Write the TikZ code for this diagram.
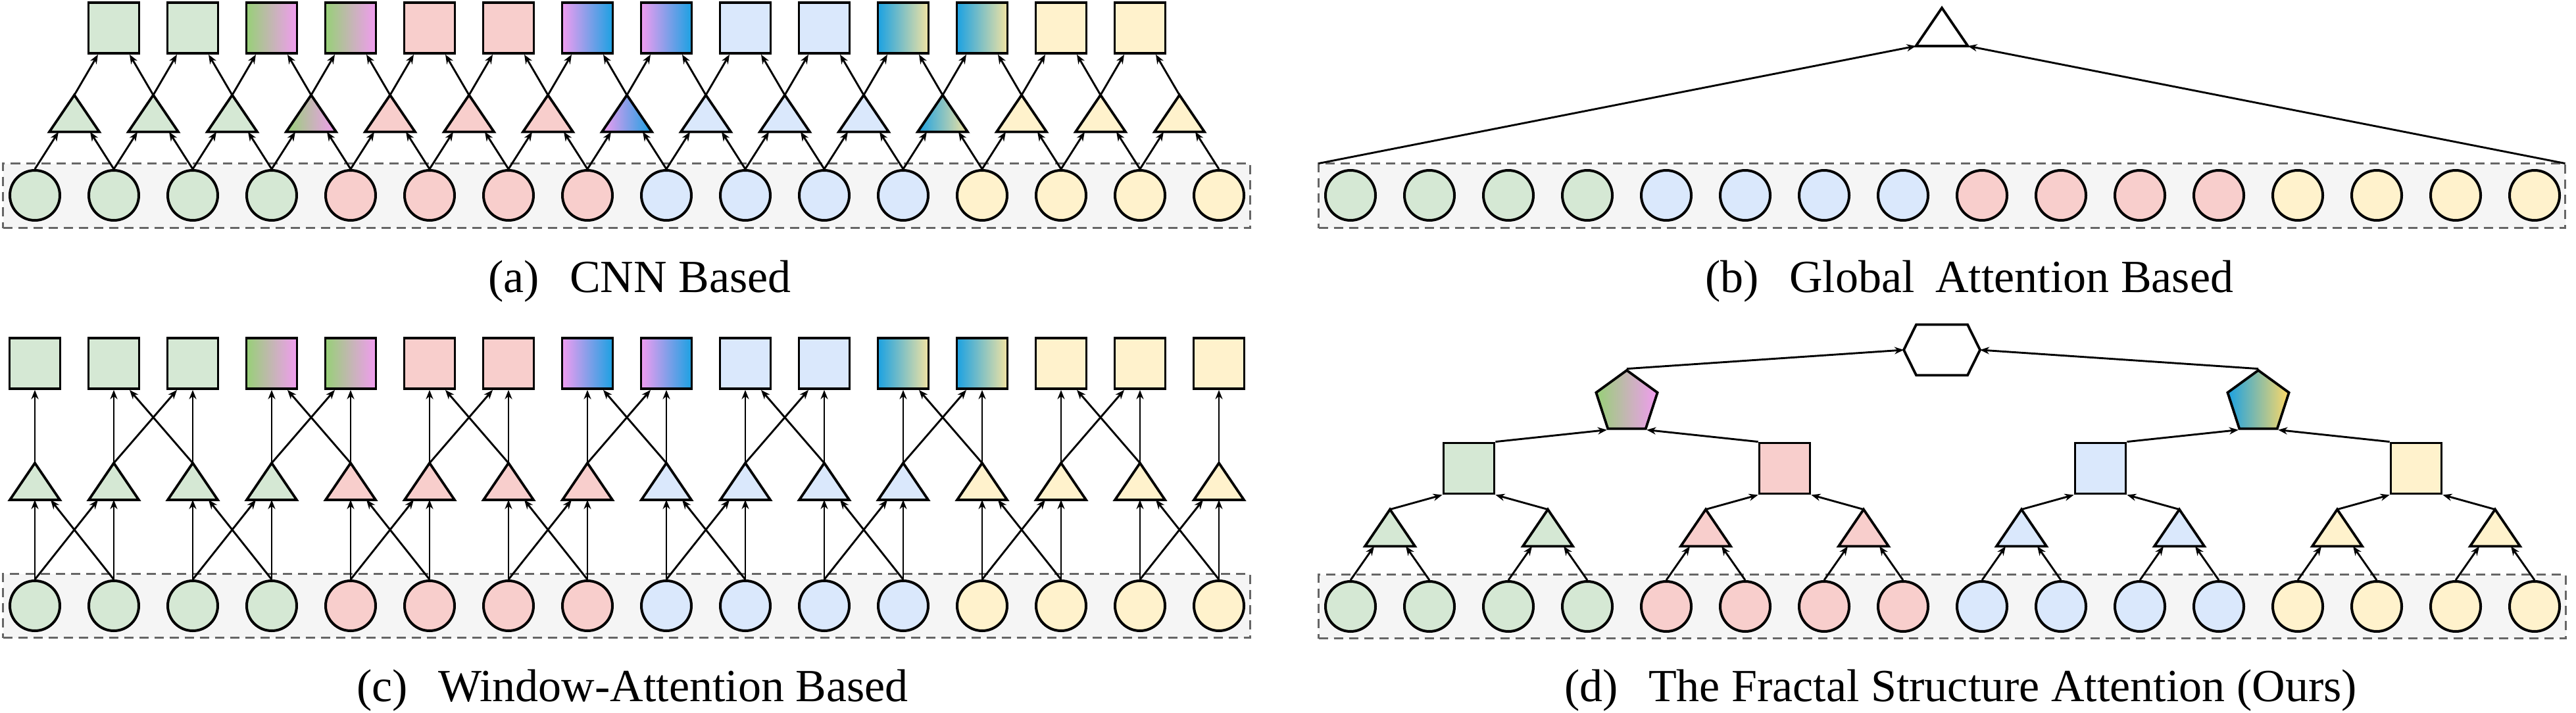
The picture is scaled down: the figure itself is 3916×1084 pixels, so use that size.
\documentclass[tikz,border=0pt]{standalone}
\usepackage{fontspec}
\setmainfont{Liberation Serif}
\newfontfamily\capfont{Liberation Serif}
\usepackage{tikz}
\usetikzlibrary{positioning,shapes.geometric,arrows.meta}
\definecolor{tokgreen}{HTML}{D5E8D4}
\definecolor{tokpink}{HTML}{F8CECC}
\definecolor{tokblue}{HTML}{DAE8FC}
\definecolor{tokyellow}{HTML}{FFF2CC}
\definecolor{gradgreen}{HTML}{97D077}
\definecolor{gradpink}{HTML}{F19CF0}
\definecolor{gradblue}{HTML}{1BA1E2}
\definecolor{gradyellow}{HTML}{F2E3A2}
\definecolor{pentyellow}{HTML}{FFD966}
\definecolor{boxgray}{HTML}{F5F5F5}
\definecolor{dashgray}{HTML}{666666}
\tikzstyle{colG} = [fill=tokgreen]
\tikzstyle{colP} = [fill=tokpink]
\tikzstyle{colB} = [fill=tokblue]
\tikzstyle{colY} = [fill=tokyellow]
\tikzstyle{colW} = [fill=white]
\tikzstyle{colGP} = [left color=gradgreen, right color=gradpink]
\tikzstyle{colPB} = [left color=gradpink, right color=gradblue]
\tikzstyle{colBY} = [left color=gradblue, right color=gradyellow]
\tikzstyle{colBYp} = [left color=gradblue, right color=pentyellow]
\tikzstyle{token} = [circle, minimum size=76pt, inner sep=0pt, draw=black, line width=4pt]
\tikzstyle{feat} = [rectangle, minimum size=77pt, inner sep=0pt, draw=black, line width=3.8pt]
\tikzstyle{tribox} = [rectangle, minimum width=76pt, minimum height=56pt, inner sep=0pt, outer sep=0pt]
\tikzstyle{tri} = [draw=black, line width=3.8pt, line join=miter]
\tikzstyle{pent} = [regular polygon, regular polygon sides=5, minimum size=98pt, inner sep=0pt, draw=black, line width=3.8pt]
\tikzstyle{seqbox} = [rectangle, draw=dashgray, fill=boxgray, line width=3.5pt, dash pattern=on 14pt off 9pt, inner sep=0pt, outer sep=0pt]
\tikzstyle{arrow} = [line width=2.9pt, -{Stealth[length=14pt, width=11pt]}]
\tikzstyle{caption} = [anchor=base west, inner sep=0pt, font=\capfont\fontsize{70pt}{84pt}\selectfont]

\begin{document}
\begin{tikzpicture}[x=1pt, y=-1pt]
\useasboundingbox (0,0) rectangle (3916,1084);
% (a) CNN based
 \node[seqbox, minimum width=1896pt, minimum height=98pt] (boxa) at (952.5,297.5) {};
 \foreach \col [count=\i] in {colG,colG,colG,colG,colP,colP,colP,colP,colB,colB,colB,colB,colY,colY,colY,colY}
   \node[token,\col] (ca\i) at ({53+120*(\i-1)},297) {};
 \foreach \col [count=\i] in {colG,colG,colG,colGP,colP,colP,colP,colPB,colB,colB,colB,colBY,colY,colY,colY} {
   \node[tribox] (ta\i) at ({113+120*(\i-1)},172.5) {};
   \draw[tri,\col] (ta\i.south west) -- (ta\i.south east) -- (ta\i.north) -- cycle;
 }
 \foreach \col [count=\i from 2] in {colG,colG,colGP,colGP,colP,colP,colPB,colPB,colB,colB,colBY,colBY,colY,colY}
   \node[feat,\col] (sa\i) at ({53+120*(\i-1)},42.5) {};
% arrows
 \foreach \i in {1,...,15}
   \draw[arrow] (ca\i.north) -- ([xshift=-24pt]ta\i.south);
 \foreach \i [evaluate=\i as \j using int(\i-1)] in {2,...,16}
   \draw[arrow] (ca\i.north) -- ([xshift=24pt]ta\j.south);
 \foreach \i [evaluate=\i as \j using int(\i+1)] in {1,...,14}
   \draw[arrow] (ta\i.north) -- ([xshift=-24pt]sa\j.south);
 \foreach \i in {2,...,15}
   \draw[arrow] (ta\i.north) -- ([xshift=24pt]sa\i.south);
 \node[caption] (capa) at (742,444) {(a)\hspace{0.66em}CNN Based};

% (b) global attention
 \node[seqbox, minimum width=1895pt, minimum height=98pt] (boxb) at (2952,297.5) {};
 \foreach \col [count=\i] in {colG,colG,colG,colG,colB,colB,colB,colB,colP,colP,colP,colP,colY,colY,colY,colY}
   \node[token,\col] (cb\i) at ({2053+120*(\i-1)},297) {};
 \node[tribox, minimum width=79pt, minimum height=58pt] (tb) at (2952,41) {};
 \draw[tri,colW] (tb.south west) -- (tb.south east) -- (tb.north) -- cycle;
% arrows
 \draw[arrow] (boxb.north west) -- (tb.south west);
 \draw[arrow] (boxb.north east) -- (tb.south east);
 \node[caption] (capb) at (2592,444) {(b)\hspace{0.66em}Global\hspace{0.45em}Attention Based};

% (c) window attention
 \node[seqbox, minimum width=1896pt, minimum height=97pt] (boxc) at (952.5,921) {};
 \foreach \col [count=\i] in {colG,colG,colG,colG,colP,colP,colP,colP,colB,colB,colB,colB,colY,colY,colY,colY} {
   \node[token,\col] (cc\i) at ({53+120*(\i-1)},921) {};
   \node[tribox] (tc\i) at ({53+120*(\i-1)},732) {};
   \draw[tri,\col] (tc\i.south west) -- (tc\i.south east) -- (tc\i.north) -- cycle;
 }
 \foreach \col [count=\i] in {colG,colG,colG,colGP,colGP,colP,colP,colPB,colPB,colB,colB,colBY,colBY,colY,colY,colY}
   \node[feat,\col] (sc\i) at ({53+120*(\i-1)},552.5) {};
% arrows
 \foreach \i in {1,...,16} {
   \draw[arrow] (cc\i.north) -- (tc\i.south);
   \draw[arrow] (tc\i.north) -- (sc\i.south);
 }
 \foreach \i [evaluate=\i as \j using int(\i+1)] in {1,3,...,15} {
   \draw[arrow] (cc\j.north) -- ([xshift=24pt]tc\i.south);
   \draw[arrow] (cc\i.north) -- ([xshift=-24pt]tc\j.south);
 }
 \foreach \i [evaluate=\i as \j using int(\i+1)] in {2,4,...,14} {
   \draw[arrow] (tc\j.north) -- ([xshift=24pt]sc\i.south);
   \draw[arrow] (tc\i.north) -- ([xshift=-24pt]sc\j.south);
 }
 \node[caption] (capc) at (542,1066) {(c)\hspace{0.66em}Window-Attention Based};

% (d) fractal structure attention
 \node[seqbox, minimum width=1896pt, minimum height=97pt] (boxd) at (2952.5,922) {};
 \foreach \col [count=\i] in {colG,colG,colG,colG,colP,colP,colP,colP,colB,colB,colB,colB,colY,colY,colY,colY}
   \node[token,\col] (cd\i) at ({2053+120*(\i-1)},922) {};
 \foreach \col [count=\i] in {colG,colG,colP,colP,colB,colB,colY,colY} {
   \node[tribox] (td\i) at ({2113+240*(\i-1)},802.5) {};
   \draw[tri,\col] (td\i.south west) -- (td\i.south east) -- (td\i.north) -- cycle;
 }
 \foreach \col [count=\i] in {colG,colP,colB,colY}
   \node[feat,\col] (sd\i) at ({2233+480*(\i-1)},712) {};
 \node[pent,colGP] (pe1) at (2473,612) {};
 \node[pent,colBYp] (pe2) at (3433,612) {};
 \node[rectangle, minimum width=116pt, minimum height=77pt, inner sep=0pt, outer sep=0pt] (hx) at (2952,532) {};
 \draw[tri,colW] (hx.west) -- ([xshift=19pt]hx.north west) -- ([xshift=-19pt]hx.north east)
                 -- (hx.east) -- ([xshift=-19pt]hx.south east) -- ([xshift=19pt]hx.south west) -- cycle;
% arrows
 \foreach \i [evaluate=\i as \a using int(2*\i-1), evaluate=\i as \b using int(2*\i)] in {1,...,8} {
   \draw[arrow] (cd\a.north) -- ([xshift=-24pt]td\i.south);
   \draw[arrow] (cd\b.north) -- ([xshift=24pt]td\i.south);
 }
 \foreach \i [evaluate=\i as \a using int(2*\i-1), evaluate=\i as \b using int(2*\i)] in {1,...,4} {
   \draw[arrow] (td\a.north) -- (sd\i.south west);
   \draw[arrow] (td\b.north) -- (sd\i.south east);
 }
 \draw[arrow] (sd1.north east) -- (pe1.corner 3);
 \draw[arrow] (sd2.north west) -- (pe1.corner 4);
 \draw[arrow] (sd3.north east) -- (pe2.corner 3);
 \draw[arrow] (sd4.north west) -- (pe2.corner 4);
 \draw[arrow] (pe1.corner 1) -- (hx.west);
 \draw[arrow] (pe2.corner 1) -- (hx.east);
 \node[caption] (capd) at (2378,1066) {(d)\hspace{0.66em}The Fractal Structure Attention (Ours)};
\end{tikzpicture}
\end{document}
